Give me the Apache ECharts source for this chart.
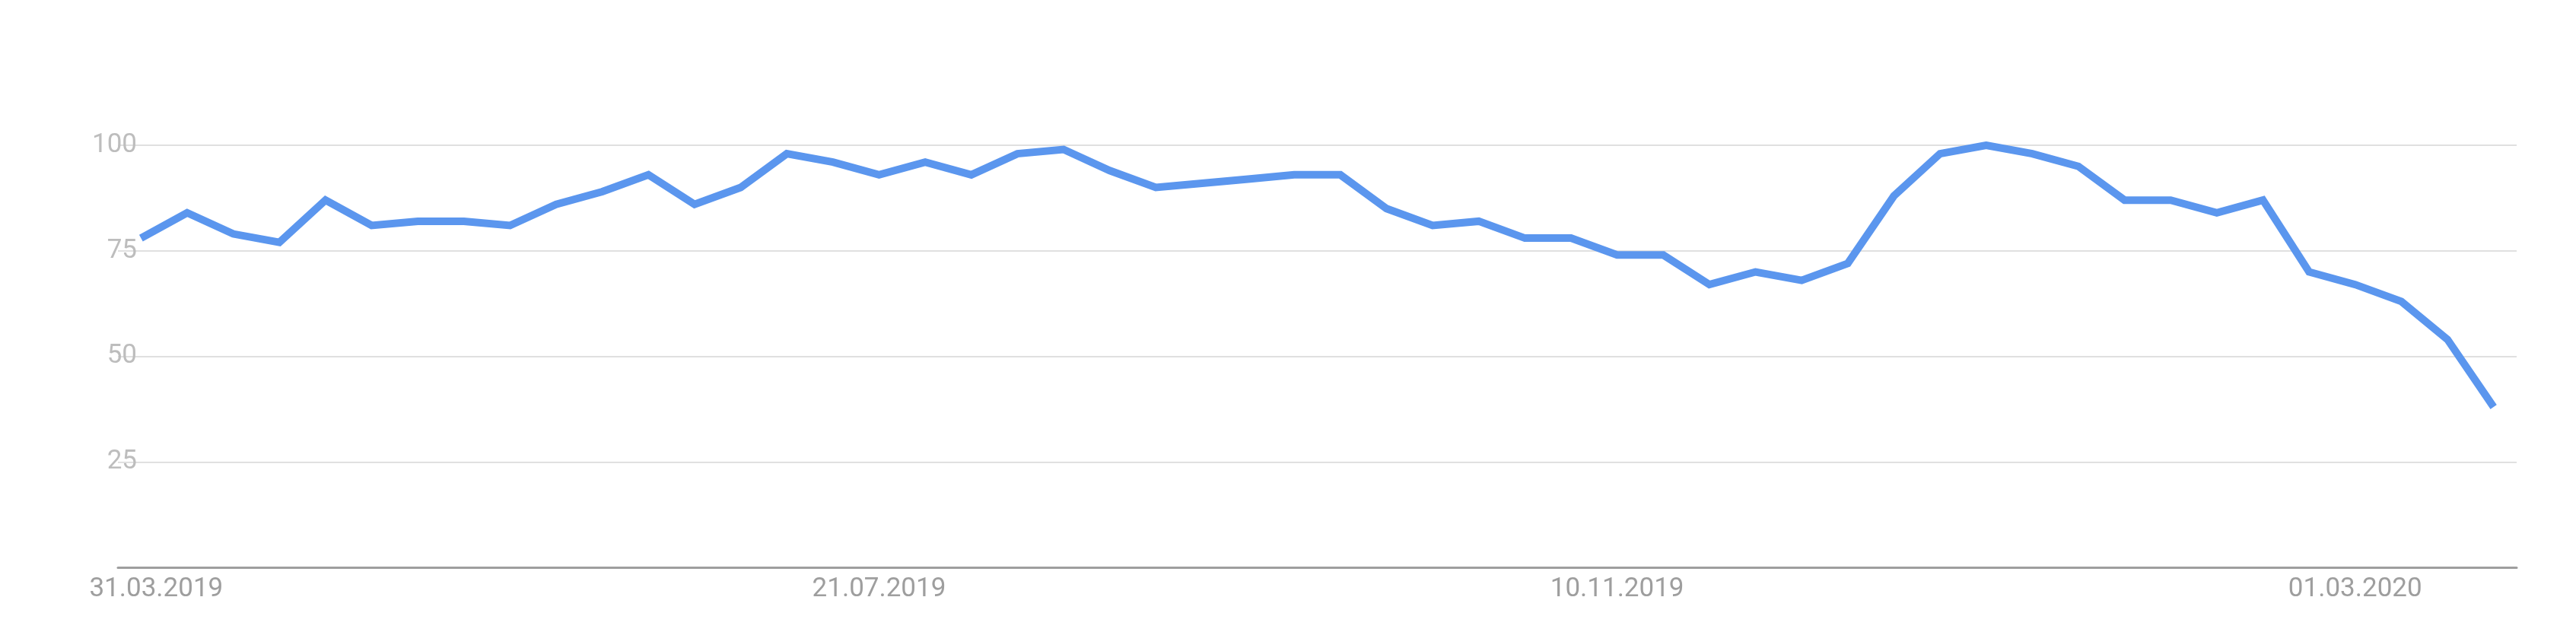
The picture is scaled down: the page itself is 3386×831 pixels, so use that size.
<!DOCTYPE html>
<html>
<head>
<meta charset="utf-8">
<script src="https://cdn.jsdelivr.net/npm/echarts@6/dist/echarts.min.js"></script>
<style>
  html, body { margin: 0; padding: 0; background: #fff; }
  #chart { width: 3386px; height: 831px; }
</style>
</head>
<body>
<div id="chart"></div>
<script>
// weekly dates, 31.03.2019 .. 22.03.2020
const weeks = [];
const start = new Date(Date.UTC(2019, 2, 31));
for (let i = 0; i < 52; i++) {
    const d = new Date(start.getTime() + i * 7 * 86400000);
    const dd = String(d.getUTCDate()).padStart(2, '0');
    const mm = String(d.getUTCMonth() + 1).padStart(2, '0');
    weeks.push(dd + '.' + mm + '.' + d.getUTCFullYear());
}

// interest values
const interest = [
    78, 84, 79, 77, 87, 81, 82, 82, 81, 86,
    89, 93, 86, 90, 98, 96, 93, 96, 93, 98,
    99, 94, 90, 91, 92, 93, 93, 85, 81, 82,
    78, 78, 74, 74, 67, 70, 68, 72, 88, 98,
    100, 98, 95, 87, 87, 84, 87, 70, 67, 63,
    54, 38,
];

const yTicks = [25, 50, 75, 100];

const chart = echarts.init(document.getElementById('chart'));
chart.setOption({
    animation: false,
    grid: { left: 155, right: 78, top: 191, bottom: 85, containLabel: false, outerBoundsMode: 'none' },
    xAxis: {
        type: 'category',
        data: weeks,
        boundaryGap: true,
        axisLine: { lineStyle: { color: '#9e9e9e', width: 3 } },
        axisTick: { show: false },
        axisLabel: {
            interval: 15,
            color: '#9e9e9e',
            fontFamily: 'Roboto',
            fontSize: 35,
            margin: 12,
            // first label gets pushed left, pad it back under its point
            formatter: (v, i) => (i === 0 ? '{first|' + v + '}' : v),
            rich: {
                first: {
                    color: '#9e9e9e',
                    fontFamily: 'Roboto',
                    fontSize: 35,
                    padding: [0, 0, 0, 40],
                },
            },
        },
    },
    yAxis: {
        type: 'value',
        min: 0,
        max: yTicks[yTicks.length - 1],
        interval: 25,
        offset: -41,
        axisLine: { show: false },
        axisTick: { show: false },
        splitLine: { lineStyle: { color: '#e0e0e0', width: 2 } },
        axisLabel: {
            showMinLabel: false,
            color: '#bdbdbd',
            fontFamily: 'Roboto',
            fontSize: 35,
            margin: 16,
        },
    },
    series: [{
        type: 'line',
        data: interest,
        symbol: 'none',
        lineStyle: { color: '#5b96ee', width: 10, join: 'miter' },
    }],
});
</script>
</body>
</html>
